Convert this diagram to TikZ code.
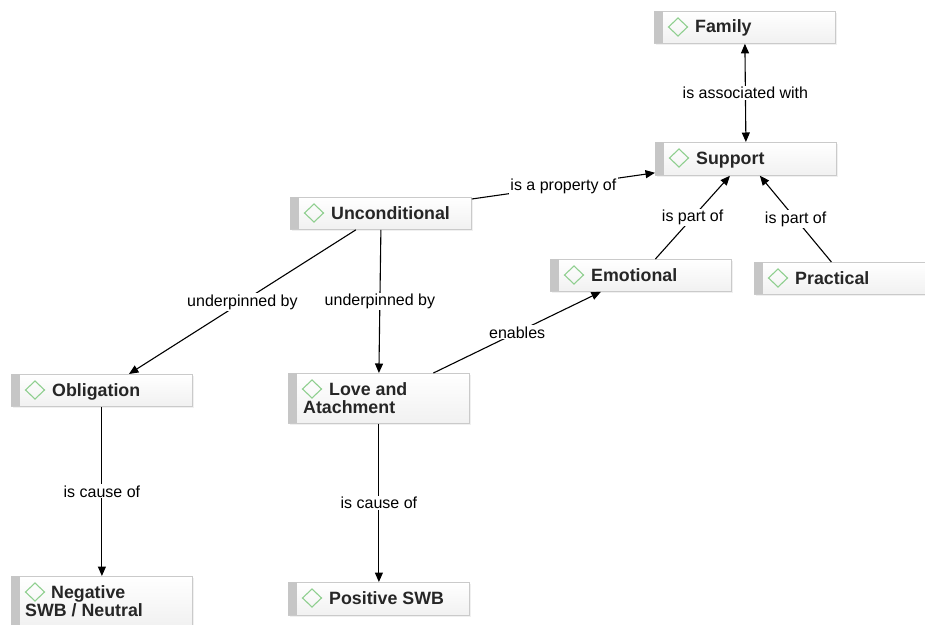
\documentclass[tikz,border=0pt]{standalone}
\usepackage{fontspec}
\setmainfont{Liberation Sans}
\usetikzlibrary{arrows.meta}

\definecolor{boxline}{HTML}{CACACA}
\definecolor{boxbar}{HTML}{C6C6C6}
\definecolor{boxlow}{HTML}{F1F1F1}
\definecolor{gem}{HTML}{8FCF8F}
\definecolor{ink}{HTML}{262626}

\tikzset{
  cbox/.style={rectangle, draw=boxline, line width=0.8pt, top color=white,
    bottom color=boxlow, minimum width=181pt, inner sep=0pt, anchor=north west},
  ctext/.style={anchor=base west, inner sep=0pt, text=ink,
    font=\bfseries\fontsize{17.8}{18}\selectfont},
  link/.style={line width=1.1pt, black},
  tip/.tip={Triangle[length=9.5pt,width=8pt]},
  lbl/.style={midway, fill=white, inner sep=1.2pt,
    font=\fontsize{16}{18}\selectfont},
}

% box with shadow, grey side bar and green diamond mark
\newcommand\conceptbox[4]{%
  \fill[black!6] (#2+1.5,#3+2) rectangle ++(181,#4);
  \node[cbox, minimum height=#4 pt] (#1) at (#2,#3) {};
  \fill[boxbar] ([shift={(0.4pt,-0.4pt)}]#1.north west) rectangle ([shift={(9pt,0.4pt)}]#1.south west);
  \draw[gem, line width=1.1pt, line join=miter]
    ([shift={(24pt,-16pt)}]#1.north west) ++(-9.5pt,0) -- ++(9.5pt,9pt) -- ++(9.5pt,-9pt) -- ++(-9.5pt,-9pt) -- cycle;
}

\begin{document}
\begin{tikzpicture}[x=1pt, y=-1pt]
  \fill[white] (0,0) rectangle (925,624);
  \useasboundingbox (0,0) rectangle (925,624);
  \clip (0,0) rectangle (925,624);

  % concept boxes
  \conceptbox{fam}{654}{11}{32}
  \conceptbox{sup}{655}{142}{33}
  \conceptbox{unc}{290}{197}{32}
  \conceptbox{emo}{550}{259}{32}
  \conceptbox{pra}{754}{262}{32}
  \conceptbox{obl}{11}{374}{32}
  \conceptbox{lov}{288}{373}{50}
  \conceptbox{neg}{11}{576}{50}
  \conceptbox{pos}{288}{582}{33}

  % box titles
  \node[ctext] (fam-t) at ([shift={(41pt,-21pt)}]fam.north west) {Family};
  \node[ctext] (sup-t) at ([shift={(41pt,-22pt)}]sup.north west) {Support};
  \node[ctext] (unc-t) at ([shift={(41pt,-22pt)}]unc.north west) {Unconditional};
  \node[ctext] (emo-t) at ([shift={(41pt,-22pt)}]emo.north west) {Emotional};
  \node[ctext] (pra-t) at ([shift={(41pt,-22pt)}]pra.north west) {Practical};
  \node[ctext] (obl-t) at ([shift={(41pt,-22pt)}]obl.north west) {Obligation};
  \node[ctext] (lov-t1) at ([shift={(41pt,-22.5pt)}]lov.north west) {Love and};
  \node[ctext] (lov-t2) at ([shift={(15pt,-40.5pt)}]lov.north west) {Atachment};
  \node[ctext] (neg-t1) at ([shift={(40pt,-22.5pt)}]neg.north west) {Negative};
  \node[ctext] (neg-t2) at ([shift={(14pt,-40.5pt)}]neg.north west) {SWB / Neutral};
  \node[ctext] (pos-t) at ([shift={(41pt,-22pt)}]pos.north west) {Positive SWB};

  % connectors
  \draw[link, tip-tip] (fam.south) -- node[lbl] {is associated with} (sup.north);
  \draw[link, -tip] ([yshift=-2pt]unc.north east) -- node[lbl] {is a property of} ([yshift=3pt]sup.south west);
  \draw[link, -tip] ([xshift=14.5pt]emo.north) -- node[lbl] {is part of} ([xshift=-16pt]sup.south);
  \draw[link, -tip] ([xshift=-13.5pt]pra.north) -- node[lbl] {is part of} ([xshift=14pt]sup.south);
  \draw[link, -tip] ([xshift=-25pt]unc.south) -- node[lbl] {underpinned by} ([xshift=27pt]obl.north);
  \draw[link, -tip] (unc.south) -- node[lbl] {underpinned by} (lov.north);
  \draw[link, -tip] ([xshift=54.5pt]lov.north) -- node[lbl] {enables} ([xshift=-40pt]emo.south);
  \draw[link, -tip] (obl.south) -- node[lbl] {is cause of} (neg.north);
  \draw[link, -tip] (lov.south) -- node[lbl] {is cause of} (pos.north);
\end{tikzpicture}
\end{document}
